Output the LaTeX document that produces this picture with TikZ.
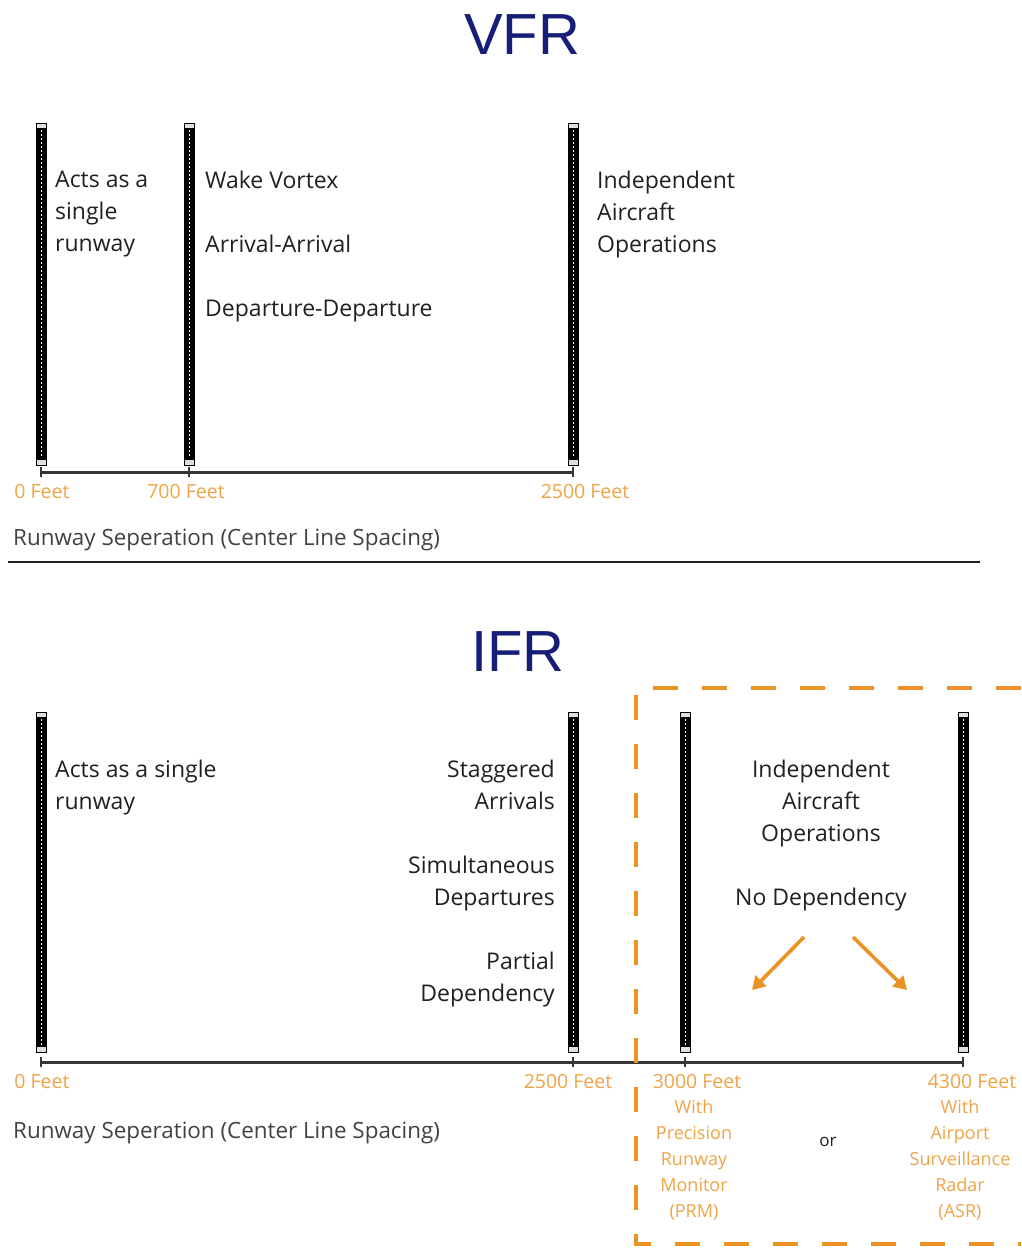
\documentclass[tikz,border=0pt]{standalone}
\usepackage{fontspec}
\setmainfont{Open Sans}
\newfontfamily\titlefont{Liberation Sans}
\usetikzlibrary{arrows.meta}
\definecolor{navy}{RGB}{22,30,120}
\definecolor{amber}{RGB}{234,146,36}
\definecolor{amberlt}{RGB}{238,164,70}
\definecolor{ink}{RGB}{32,32,32}
\begin{document}
\begin{tikzpicture}[x=1pt,y=-1pt,
  runway/.style={fill=black, draw=black, line width=0.6pt, minimum width=10pt,
    inner sep=0pt, outer sep=0pt,
    path picture={
      \draw[white, line width=0.8pt, dash pattern=on 2pt off 2pt]
        ([yshift=-7pt]path picture bounding box.north) -- ([yshift=7pt]path picture bounding box.south);
      \fill[gray!25] (path picture bounding box.north west) rectangle ([yshift=-5pt]path picture bounding box.north east);
      \fill[gray!25] (path picture bounding box.south west) rectangle ([yshift=5pt]path picture bounding box.south east);
    }},
  body/.style={font=\fontsize{23}{32}\selectfont, text=ink, inner sep=0pt},
  feet/.style={font=\fontsize{19.5}{24}\selectfont, text=amberlt, inner sep=0pt},
  sub/.style={font=\fontsize{18}{26}\selectfont, text=amberlt, inner sep=0pt, align=center},
  title/.style={font=\titlefont\fontsize{58}{60}\selectfont, text=navy, inner sep=0pt},
  caption/.style={font=\fontsize{22.4}{26}\selectfont, text=ink!85, inner sep=0pt, anchor=west},
  axisline/.style={draw=ink!90, line width=3pt},
  tick/.style={draw=ink!90, line width=1.4pt},
  pick/.style={draw=amber, line width=3.6pt, -{Triangle[length=13pt,width=15pt]}},
  framebox/.style={draw=amber, line width=4.6pt, dash pattern=on 25pt off 24pt}
]
\useasboundingbox (0,0) rectangle (1021,1249);

% ---------------- VFR ----------------
\node[title] (vfr) at (522,35) {VFR};

\node[runway, minimum height=342pt] (v1) at (41,294) {};
\node[runway, minimum height=342pt] (v2) at (189,294) {};
\node[runway, minimum height=342pt] (v3) at (573,294) {};

\coordinate (vaxis) at (0,472);
\draw[axisline] (v1.south |- vaxis) -- (v3.south |- vaxis);
\foreach \r in {v1,v2,v3}
  \draw[tick] ([yshift=-5pt]\r.south |- vaxis) -- ([yshift=5pt]\r.south |- vaxis);

\node[body, anchor=north west, align=left] (vt1) at (55,171) {Acts as a\\single\\runway};
\node[body, anchor=north west, align=left] (vt2) at (205,171) {Wake Vortex\\[32pt]Arrival-Arrival\\[32pt]Departure-Departure};
\node[body, anchor=north west, align=left] (vt3) at (597,171) {Independent\\Aircraft\\Operations};

\node[feet] (vf0) at (42,492) {0 Feet};
\node[feet] (vf1) at (186,492) {700 Feet};
\node[feet] (vf2) at (585,492) {2500 Feet};

\node[caption] (vcap) at (13,540) {Runway Seperation (Center Line Spacing)};

\coordinate (sepL) at (8,562);
\coordinate (sepR) at (980,562);
\draw[ink, line width=2.4pt] (sepL) -- (sepR);

% ---------------- IFR ----------------
\node[title] (ifr) at (518,652) {IFR};

\node[runway, minimum height=340pt] (i1) at (41,882) {};
\node[runway, minimum height=340pt] (i2) at (573,882) {};
\node[runway, minimum height=340pt] (i3) at (685,882) {};
\node[runway, minimum height=340pt] (i4) at (963,882) {};

\coordinate (iaxis) at (0,1062);
\draw[axisline] (i1.south |- iaxis) -- (i4.south |- iaxis);
\foreach \r in {i1,i2,i3,i4}
  \draw[tick] ([yshift=-5pt]\r.south |- iaxis) -- ([yshift=5pt]\r.south |- iaxis);

\node[body, anchor=north west, align=left] (it1) at (55,760) {Acts as a single\\runway};
\node[body, anchor=north east, align=right] (it2) at (555,760)
  {Staggered\\Arrivals\\[32pt]Simultaneous\\Departures\\[32pt]Partial\\Dependency};
\node[body, anchor=north, align=center] (it3) at (821,760)
  {Independent\\Aircraft\\Operations\\[32pt]No Dependency};

\coordinate (arL0) at (804,937);
\coordinate (arL1) at (752,990);
\coordinate (arR0) at (853,937);
\coordinate (arR1) at (907,990);
\draw[pick] (arL0) -- (arL1);
\draw[pick] (arR0) -- (arR1);

\node[feet] (if0) at (42,1082) {0 Feet};
\node[feet] (if1) at (568,1082) {2500 Feet};
\node[feet] (if2) at (697,1082) {3000 Feet};
\node[feet] (if3) at (972,1082) {4300 Feet};

\node[sub, anchor=north] (prm) at (694,1100) {With\\Precision\\Runway\\Monitor\\(PRM)};
\node[sub, anchor=north] (asr) at (960,1100) {With\\Airport\\Surveillance\\Radar\\(ASR)};
\node[body, font=\fontsize{17}{20}\selectfont] (or) at (828,1142) {or};

\node[caption] (icap) at (13,1133) {Runway Seperation (Center Line Spacing)};

% open frame around the monitored spacings
\coordinate (fTR) at (1021,688);
\coordinate (fTL) at (636,688);
\coordinate (fBL) at (636,1244);
\coordinate (fBR) at (1021,1244);
\draw[framebox] (fTR) -- (fTL) -- (fBL) -- (fBR);
\end{tikzpicture}
\end{document}
